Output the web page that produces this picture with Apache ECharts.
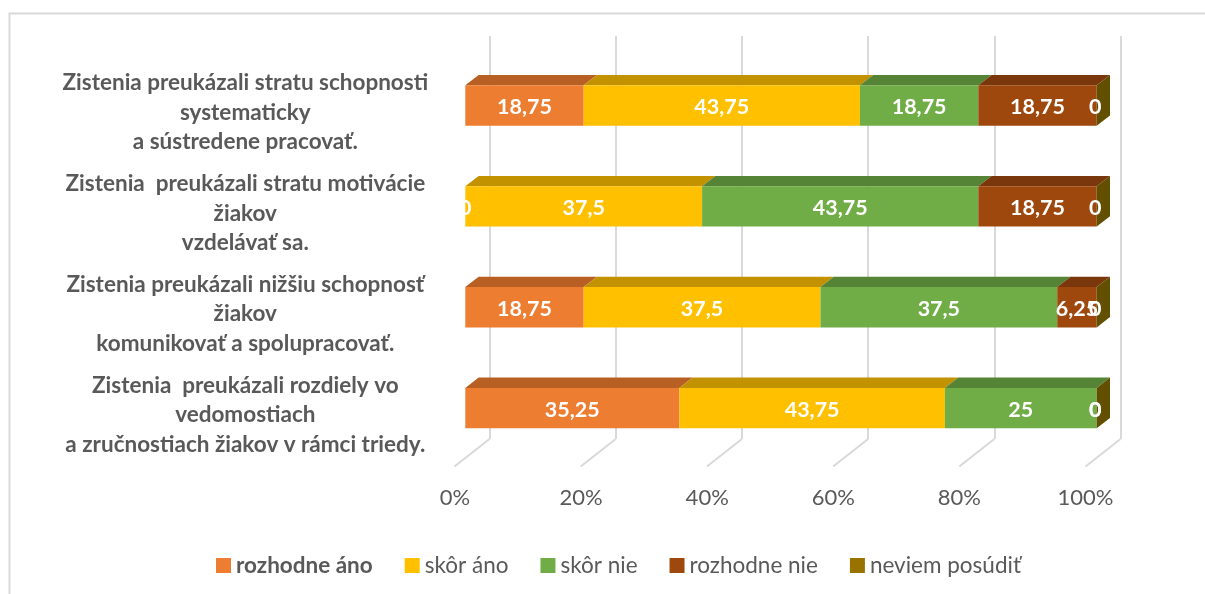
<!DOCTYPE html>
<html><head><meta charset="utf-8">
<style>html,body{margin:0;padding:0;background:#fff}#c{width:1205px;height:594px}</style>
<script src="https://cdn.jsdelivr.net/npm/echarts@6/dist/echarts.min.js"></script>
</head><body><div id="c"></div>
<script>
const categories = [
  "Zistenia preukázali stratu schopnosti\nsystematicky\na sústredene pracovať.",
  "Zistenia  preukázali stratu motivácie\nžiakov\nvzdelávať sa.",
  "Zistenia preukázali nižšiu schopnosť\nžiakov\nkomunikovať a spolupracovať.",
  "Zistenia  preukázali rozdiely vo\nvedomostiach\na zručnostiach žiakov v rámci triedy."
];
const seriesNames = ["rozhodne áno","skôr áno","skôr nie","rozhodne nie","neviem posúdiť"];
const rozhodneAno = [18.75, 0, 18.75, 35.25];
const skorAno = [43.75, 37.5, 37.5, 43.75];
const skorNie = [18.75, 43.75, 37.5, 25];
const rozhodneNie = [18.75, 18.75, 6.25, 0];
const neviem = [0, 0, 0, 0];
const tickValues = [0, 20, 40, 60, 80, 100];
const frontColors = ["#ED7D31","#FFC000","#70AD47","#9E480E","#997300"];
const topColors = ["#B86024","#C29200","#558436","#7A370B","#756000"];
const sideColor = "#634F00";

const allValues = [rozhodneAno, skorAno, skorNie, rozhodneNie, neviem];
const FONT = "Lato";
const TXT = "#595959";
const DX = 13.3, DY = 10.3;

function rowsFor(si){
  return categories.map((_, r) => {
    const total = allValues.reduce((a, s) => a + s[r], 0);
    let before = 0;
    for (let k = 0; k < si; k++) before += allValues[k][r];
    return [r, before / total * 100, (before + allValues[si][r]) / total * 100, allValues[si][r]];
  });
}
function segmentRenderer(si){
  return function(params, api){
    const r = api.value(0), a = api.value(1), b = api.value(2), raw = api.value(3);
    const h = api.size([0, 1])[1] * 0.4;
    const p0 = api.coord([a, r]), p1 = api.coord([b, r]);
    const x0 = p0[0], x1 = p1[0], yc = p0[1], y0 = yc - h / 2, y1 = yc + h / 2;
    const children = [];
    if (x1 - x0 > 0.01) {
      children.push({type:'polygon', shape:{points:[[x0,y0],[x0+DX,y0-DY],[x1+DX,y0-DY],[x1,y0]]}, style:{fill:topColors[si]}});
      children.push({type:'rect', shape:{x:x0,y:y0,width:x1-x0,height:h}, style:{fill:frontColors[si]}});
    }
    if (si === seriesNames.length - 1) {
      children.push({type:'polygon', shape:{points:[[x1,y0],[x1+DX,y0-DY],[x1+DX,y1-DY],[x1,y1]]}, style:{fill:sideColor}});
    }
    children.push({type:'text', z2:50, style:{
      x:(x0+x1)/2 - (x1 - x0 < 0.01 && x0 > 600 ? 1.5 : 0), y:yc+2, text:String(raw).replace('.',','), align:'center', verticalAlign:'middle',
      fill:'#fff', font:'bold 21.5px '+FONT}});
    return {type:'group', children};
  };
}
const barSeries = seriesNames.map((name, si) => ({
  name, type:'custom', xAxisIndex:0, yAxisIndex:0, z:5,
  itemStyle:{color:frontColors[si]},
  encode:{x:[1,2], y:0},
  data:rowsFor(si),
  renderItem:segmentRenderer(si),
  clip:false, silent:true
}));
const floorSeries = {
  type:'custom', xAxisIndex:1, yAxisIndex:1, z:1, silent:true, clip:false,
  encode:{x:0, y:1},
  data:tickValues.map(v => [v, 0]),
  renderItem(params, api){
    const p = api.coord([api.value(0), 0]);
    return {type:'line', shape:{x1:p[0], y1:p[1], x2:p[0]-35, y2:p[1]+27.5},
      style:{stroke:'#D9D9D9', lineWidth:2}};
  }
};
const chart = echarts.init(document.getElementById('c'), null, {renderer:'canvas'});
chart.setOption({
  animation:false,
  backgroundColor:'#fff',
  textStyle:{fontFamily:FONT},
  graphic:[{type:'polyline', silent:true, z:0, shape:{points:[[9.5,594],[9.5,13.5],[1205,13.5]]}, style:{stroke:'#D9D9D9', lineWidth:2, fill:null}}],
  grid:[
    {left:465.3, width:631.4, top:55.1, height:403.4},
    {left:489.5, width:631, top:36, height:403},
    {left:455, width:630.5, top:55.1, height:403.4},
    {left:465.3, width:631.4, top:62.1, height:403.4}
  ],
  xAxis:[
    {gridIndex:0, type:'value', min:0, max:100, show:false},
    {gridIndex:1, type:'value', min:0, max:100, interval:20, axisLine:{show:false}, axisTick:{show:false}, axisLabel:{show:false},
      splitLine:{show:true, lineStyle:{color:'#D9D9D9', width:2}}},
    {gridIndex:2, type:'value', min:0, max:100, interval:20, axisLine:{show:false}, axisTick:{show:false}, splitLine:{show:false},
      axisLabel:{formatter:'{value}%', color:TXT, fontFamily:FONT, fontSize:22, margin:28, hideOverlap:false, showMinLabel:true, showMaxLabel:true}},
    {gridIndex:3, type:'value', min:0, max:100, show:false}
  ],
  yAxis:[
    {gridIndex:0, type:'category', inverse:true, data:categories, show:false},
    {gridIndex:1, type:'value', min:0, max:1, show:false},
    {gridIndex:2, type:'value', min:0, max:1, show:false},
    {gridIndex:3, type:'category', inverse:true, data:categories, axisLine:{show:false}, axisTick:{show:false},
      axisLabel:{interval:0, align:'center', margin:220, color:TXT, fontFamily:FONT, fontWeight:'bold', fontSize:22.5, lineHeight:29.5}}
  ],
  legend:{
    left:211, top:549, itemWidth:15, itemHeight:15, itemGap:32, icon:'rect',
    data:seriesNames,
    selectedMode:false,
    formatter:n => n === seriesNames[0] ? '{b|'+n+'}' : '{n|'+n+'}',
    textStyle:{color:TXT, rich:{
      b:{fontFamily:FONT, fontSize:22.5, fontWeight:'bold', color:TXT},
      n:{fontFamily:FONT, fontSize:22.5, color:TXT}
    }}
  },
  series:[floorSeries, ...barSeries]
});
</script></body></html>
